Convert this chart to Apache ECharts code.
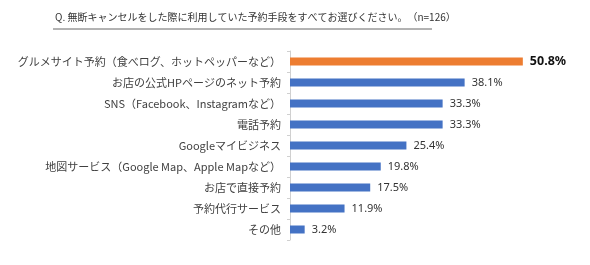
<!DOCTYPE html>
<html>
<head>
<meta charset="utf-8">
<script src="https://cdn.jsdelivr.net/npm/echarts@6/dist/echarts.min.js"></script>
<style>
html, body { margin: 0; padding: 0; background: #fff; }
#main { width: 590px; height: 265px; }
</style>
</head>
<body>
<div id="main"></div>
<script>
// 回答項目（上から順）
const categories = [
    'グルメサイト予約（食べログ、ホットペッパーなど）',
    'お店の公式HPページのネット予約',
    'SNS（Facebook、Instagramなど）',
    '電話予約',
    'Googleマイビジネス',
    '地図サービス（Google Map、Apple Mapなど）',
    'お店で直接予約',
    '予約代行サービス',
    'その他'
]
const values = [50.8, 38.1, 33.3, 33.3, 25.4, 19.8, 17.5, 11.9, 3.2]
const titleText = 'Q. 無断キャンセルをした際に利用していた予約手段をすべてお選びください。　（n=126）'

const chart = echarts.init(document.getElementById('main'))

// 一番上だけオレンジで強調
const barData = values.map((v, i) => {
    if (i === 0) {
        return {
            value: v,
            itemStyle: { color: '#ED7D31' },
            label: { fontSize: 12.5, fontWeight: 'bold', color: '#111' }
        }
    }
    return v
})

const option = {
    backgroundColor: '#fff',
    animation: false,
    graphic: [
        {
            type: 'text',
            left: 55,
            top: 12,
            style: {
                text: titleText,
                fontSize: 10,
                fill: '#333',
                fontFamily: 'Noto Sans CJK JP'
            }
        },
        {
            type: 'line',
            shape: { x1: 53, y1: 29, x2: 432, y2: 29 },
            style: { stroke: '#666', lineWidth: 1 }
        }
    ],
    grid: {
        left: 290,
        right: 25,
        top: 51,
        height: 189
    },
    xAxis: {
        type: 'value',
        min: 0,
        max: 60,
        show: false
    },
    yAxis: {
        type: 'category',
        inverse: true,
        data: categories,
        axisLine: { lineStyle: { color: '#d0d0d0' } },
        axisTick: { show: true, length: 3, lineStyle: { color: '#d0d0d0' } },
        axisLabel: {
            fontSize: 11,
            color: '#404040',
            margin: 9,
            fontFamily: 'Noto Sans CJK JP'
        }
    },
    series: [
        {
            type: 'bar',
            data: barData,
            barWidth: 8,
            itemStyle: { color: '#4472C4' },
            label: {
                show: true,
                position: 'right',
                distance: 7,
                fontSize: 11,
                color: '#333',
                fontFamily: 'Noto Sans',
                formatter: p => p.value.toFixed(1) + '%'
            }
        }
    ]
}
chart.setOption(option)
</script>
</body>
</html>
